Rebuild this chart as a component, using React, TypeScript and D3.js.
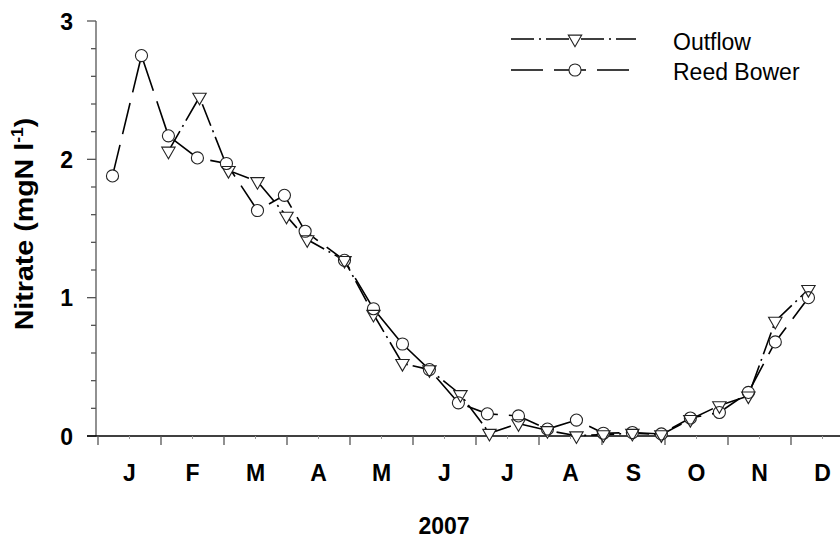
import * as d3 from 'd3';
import { useEffect, useRef } from 'react';

// sampling day of year (2007) and nitrate values
const reedDays = [7, 21, 34, 48, 62, 77, 90, 100, 119, 133, 147, 160, 174, 188, 203, 217, 231, 244, 258, 272, 286, 300, 314, 327, 343];
const reedValues = [1.88, 2.75, 2.17, 2.01, 1.97, 1.63, 1.74, 1.48, 1.27, 0.92, 0.665, 0.48, 0.24, 0.16, 0.145, 0.05, 0.115, 0.02, 0.025, 0.015, 0.13, 0.17, 0.315, 0.68, 1.0];

const outflowDays = [34, 49, 63, 77, 91, 101, 119, 133, 147, 160, 175, 189, 203, 217, 231, 244, 258, 272, 286, 300, 314, 327, 343];
const outflowValues = [2.06, 2.45, 1.92, 1.84, 1.59, 1.42, 1.27, 0.88, 0.525, 0.48, 0.3, 0.02, 0.09, 0.04, 0.002, 0.01, 0.02, 0.01, 0.12, 0.22, 0.29, 0.83, 1.06];

const monthLabels = ['J', 'F', 'M', 'A', 'M', 'J', 'J', 'A', 'S', 'O', 'N', 'D'];
const yTicks = [0, 1, 2, 3];

const WIDTH = 840;
const HEIGHT = 538;
const FONT = '"Liberation Sans", Arial, sans-serif';

export default function App(): React.ReactElement {
  const svgRef = useRef<SVGSVGElement>(null);

  useEffect(() => {
    if (!svgRef.current) return;
    const svg = d3.select(svgRef.current);
    svg.selectAll('*').remove();

    const x = d3.scaleLinear().domain([0, 365]).range([98, 854]);
    const y = d3.scaleLinear().domain([0, 3]).range([436, 21]);
    const monthLen = 365 / 12;

    // y axis
    const yAxis = svg.append('g').attr('stroke', '#555').attr('stroke-width', 1.3);
    yAxis.append('line').attr('x1', 96).attr('x2', 96).attr('y1', y(3)).attr('y2', y(0));
    const minor = d3.range(0, 3.001, 0.2);
    yAxis
      .selectAll('line.tick')
      .data(minor)
      .enter()
      .append('line')
      .attr('x1', 96)
      .attr('x2', (d) => (Math.abs(d - Math.round(d)) < 1e-6 ? 87 : 91))
      .attr('y1', (d) => y(d))
      .attr('y2', (d) => y(d));

    svg
      .append('g')
      .selectAll('text')
      .data(yTicks)
      .enter()
      .append('text')
      .attr('x', 73)
      .attr('y', (d) => y(d) + 8.5)
      .attr('text-anchor', 'end')
      .attr('font-family', FONT)
      .attr('font-weight', 'bold')
      .attr('font-size', 23)
      .text((d) => d);

    // x axis
    svg
      .append('line')
      .attr('x1', 87)
      .attr('x2', WIDTH)
      .attr('y1', y(0))
      .attr('y2', y(0))
      .attr('stroke', '#000')
      .attr('stroke-width', 1.5);

    const months = d3.range(0, 12);
    svg
      .append('g')
      .selectAll('line')
      .data(months)
      .enter()
      .append('line')
      .attr('x1', (d) => x(d * monthLen))
      .attr('x2', (d) => x(d * monthLen))
      .attr('y1', y(0))
      .attr('y2', y(0) + 9)
      .attr('stroke', '#555')
      .attr('stroke-width', 1.3);
    svg
      .append('g')
      .selectAll('line')
      .data(months)
      .enter()
      .append('line')
      .attr('x1', (d) => x((d + 0.5) * monthLen))
      .attr('x2', (d) => x((d + 0.5) * monthLen))
      .attr('y1', y(0))
      .attr('y2', y(0) + 3)
      .attr('stroke', '#999')
      .attr('stroke-width', 1);

    svg
      .append('g')
      .selectAll('text')
      .data(monthLabels)
      .enter()
      .append('text')
      .attr('x', (_, i) => x((i + 0.5) * monthLen))
      .attr('y', 481)
      .attr('text-anchor', 'middle')
      .attr('font-family', FONT)
      .attr('font-weight', 'bold')
      .attr('font-size', 23)
      .text((d) => d);

    svg
      .append('text')
      .attr('x', 444)
      .attr('y', 534)
      .attr('text-anchor', 'middle')
      .attr('font-family', FONT)
      .attr('font-weight', 'bold')
      .attr('font-size', 23)
      .text('2007');

    const yLabel = svg
      .append('text')
      .attr('transform', 'translate(33, 224) rotate(-90) scale(1.1, 1)')
      .attr('text-anchor', 'middle')
      .attr('font-family', FONT)
      .attr('font-weight', 'bold')
      .attr('font-size', 26);
    yLabel.append('tspan').text('Nitrate (mgN l');
    yLabel.append('tspan').attr('font-size', 16).attr('dy', -10).text('-1');
    yLabel.append('tspan').attr('dy', 10).text(')');

    // series
    const series = [
      { name: 'Outflow', days: outflowDays, values: outflowValues, dash: '23 5 2 5', symbol: d3.symbolTriangle },
      { name: 'Reed Bower', days: reedDays, values: reedValues, dash: '32 11', symbol: d3.symbolCircle },
    ];

    const line = d3
      .line<[number, number]>()
      .x((d) => x(d[0]))
      .y((d) => y(d[1]));

    series.forEach((s) => {
      const pts = s.days.map((d, i) => [d, s.values[i]] as [number, number]);
      svg
        .append('path')
        .attr('d', line(pts) || '')
        .attr('fill', 'none')
        .attr('stroke', '#000')
        .attr('stroke-width', 1.6)
        .attr('stroke-dasharray', s.dash);
    });

    const markerPath = (sym: d3.SymbolType) => {
      const isTri = sym === d3.symbolTriangle;
      return d3.symbol().type(sym).size(isTri ? 78 : 115)();
    };
    const markerTransform = (sym: d3.SymbolType, px: number, py: number) =>
      sym === d3.symbolTriangle ? `translate(${px},${py}) rotate(180)` : `translate(${px},${py})`;

    // white backs first so lines break at markers, then outlines
    series.forEach((s) => {
      svg
        .append('g')
        .selectAll('path')
        .data(s.days)
        .enter()
        .append('path')
        .attr('d', markerPath(s.symbol) || '')
        .attr('transform', (d, i) => markerTransform(s.symbol, x(d), y(s.values[i])))
        .attr('fill', '#fff');
    });
    series.forEach((s) => {
      svg
        .append('g')
        .selectAll('path')
        .data(s.days)
        .enter()
        .append('path')
        .attr('d', markerPath(s.symbol) || '')
        .attr('transform', (d, i) => markerTransform(s.symbol, x(d), y(s.values[i])))
        .attr('fill', 'none')
        .attr('stroke', '#222')
        .attr('stroke-width', 1.1);
    });

    // legend
    series.forEach((s, i) => {
      const ly = i === 0 ? 39 : 70;
      const g = svg.append('g');
      g.append('line')
        .attr('x1', 511)
        .attr('x2', 636)
        .attr('y1', ly)
        .attr('y2', ly)
        .attr('stroke', '#000')
        .attr('stroke-width', 1.6)
        .attr('stroke-dasharray', s.dash);
      g.append('path')
        .attr('d', markerPath(s.symbol) || '')
        .attr('transform', markerTransform(s.symbol, 575, ly))
        .attr('fill', '#fff')
        .attr('stroke', '#222')
        .attr('stroke-width', 1.1);
      g.append('text')
        .attr('x', 673)
        .attr('y', i === 0 ? 50 : 80)
        .attr('font-family', FONT)
        .attr('font-size', 23)
        .text(s.name);
    });
  }, []);

  return (
    <div style={{ position: 'absolute', left: 0, top: 0, width: WIDTH, height: HEIGHT, background: '#fff' }}>
      <svg ref={svgRef} width={WIDTH} height={HEIGHT} />
    </div>
  );
}
